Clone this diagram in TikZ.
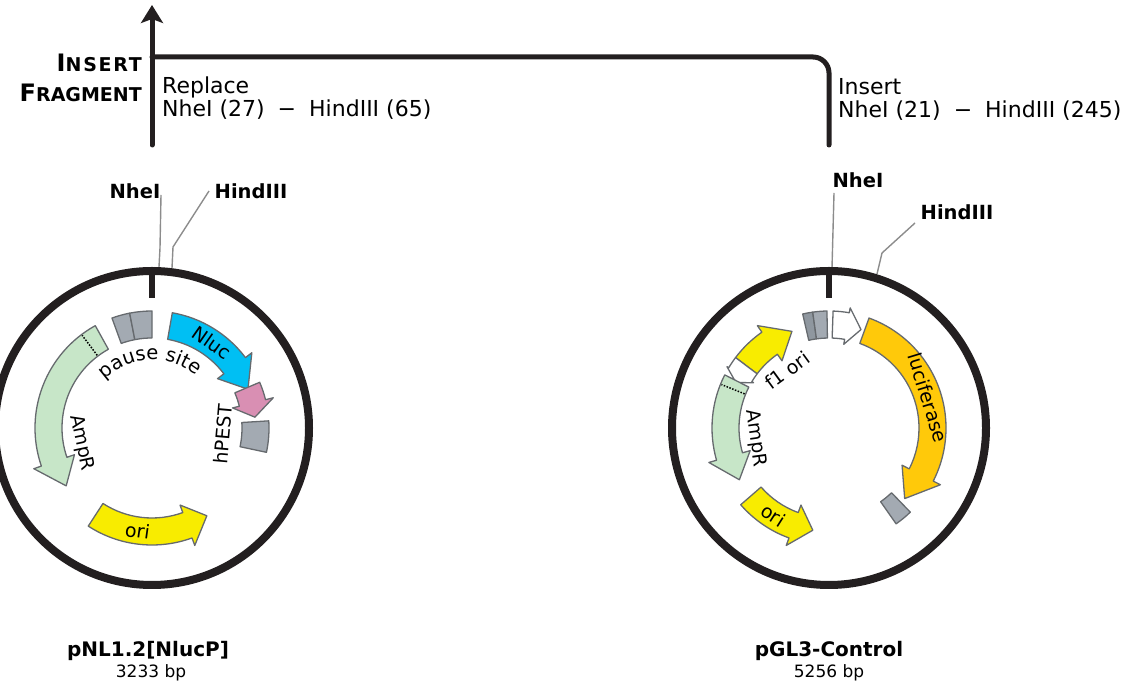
\documentclass[tikz,border=0pt]{standalone}
\usepackage{fontspec}
\setmainfont{DejaVu Sans}
\usetikzlibrary{arrows.meta,decorations.text}
\definecolor{ringc}{HTML}{231F20}
\definecolor{featline}{HTML}{666A6E}
\definecolor{leadc}{HTML}{8C8C8C}
\definecolor{boxc}{HTML}{A3AAB2}
\definecolor{boxd}{HTML}{8F979F}
\definecolor{cyanc}{HTML}{00BFF3}
\definecolor{pinkc}{HTML}{D98FB3}
\definecolor{greenc}{HTML}{C7E6C8}
\definecolor{yellowc}{HTML}{F8EC00}
\definecolor{orangec}{HTML}{FFC90A}
% start angle, head-base angle, tip angle, fill, head outer radius, head inner radius
\newcommand\featarrow[6]{%
  \filldraw[feat, fill=#4] (#1:117pt) arc[start angle=#1, end angle=#2, radius=117pt]
    -- (#2:#5pt) -- (#3:103.5pt) -- (#2:#6pt) -- (#2:90pt)
    arc[start angle=#2, end angle=#1, radius=90pt] -- cycle;}
% start angle, end angle, fill
\newcommand\featbox[3]{%
  \filldraw[feat, fill=#3] (#1:117pt) arc[start angle=#1, end angle=#2, radius=117pt]
    -- (#2:90pt) arc[start angle=#2, end angle=#1, radius=90pt] -- cycle;}
\newcommand\fakesc[3]{{\fontsize{24}{24}\selectfont #1}{\fontsize{19}{19}\selectfont\addfontfeature{LetterSpace=#3}#2}}
\begin{document}
\begin{tikzpicture}[x=1pt,y=1pt,
  feat/.style={draw=featline, line width=1.3pt, line join=round},
  ringline/.style={draw=ringc, line width=8pt},
  tickline/.style={draw=ringc, line width=6pt},
  lead/.style={draw=leadc, line width=1.4pt},
  bracket/.style={draw=ringc, line width=5pt, line cap=round},
  dotline/.style={draw=black, line width=1.5pt, dash pattern=on 1.5pt off 1.5pt},
  flbl/.style={inner sep=0pt, font=\fontsize{19}{22}\selectfont},
  site/.style={inner sep=0pt, font=\bfseries\fontsize{19.5}{22}\selectfont},
  toptxt/.style={inner sep=0pt, anchor=base west, font=\fontsize{22}{25}\selectfont},
  headtxt/.style={inner sep=0pt, anchor=base east, font=\bfseries},
  pname/.style={inner sep=0pt, font=\bfseries\fontsize{20}{23}\selectfont},
  psize/.style={inner sep=0pt, font=\fontsize{17}{20}\selectfont}]
\useasboundingbox (0,0) rectangle (1137,687);
\clip (0,0) rectangle (1137,687);

% ---------- top bracket ----------
\coordinate (arrbase) at (152,542);
\coordinate (arrtip) at (152,682);
\coordinate (brjoin) at (152,630);
\coordinate (brcorner) at (829,630);
\coordinate (brend) at (829,542);
\draw[bracket, -{Stealth[length=18pt,width=22pt,inset=4pt]}] (arrbase) -- (arrtip);
\draw[bracket, rounded corners=16pt] (brjoin) -- (brcorner) -- (brend);

\node[headtxt] (ins) at (142,615) {\fakesc{I}{NSERT}{9}};
\node[headtxt] (frag) at (142,585) {\fakesc{F}{RAGMENT}{0}};
\node[toptxt] (repl) at (162,593) {Replace};
\node[toptxt] (replsites) at (162,570) {NheI (27)\hspace{13pt}−\hspace{13pt}HindIII (65)};
\node[toptxt] (insr) at (838,592) {Insert};
\node[toptxt] (inssites) at (838,569) {NheI (21)\hspace{13pt}−\hspace{13pt}HindIII (245)};

% ---------- site labels and leaders ----------
\node[site, anchor=base] (nheL) at (135,488) {NheI};
\node[site, anchor=base] (hindL) at (251,488) {HindIII};
\node[site, anchor=base] (nheR) at (858,499) {NheI};
\node[site, anchor=base] (hindR) at (957,467) {HindIII};
\coordinate (nheLa) at (161,492); \coordinate (nheLb) at (160,439); \coordinate (nheLc) at (159,420);
\coordinate (hindLa) at (209,496); \coordinate (hindLb) at (173,440); \coordinate (hindLc) at (172,419);
\coordinate (nheRa) at (834,494); \coordinate (nheRc) at (832,419);
\coordinate (hindRa) at (915,464); \coordinate (hindRb) at (882,434); \coordinate (hindRc) at (877,413);
\draw[lead] (nheLa) -- (nheLb) -- (nheLc);
\draw[lead] (hindLa) -- (hindLb) -- (hindLc);
\draw[lead] (nheRa) -- (nheRc);
\draw[lead] (hindRa) -- (hindRb) -- (hindRc);

% ---------- left plasmid pNL1.2[NlucP] ----------
\begin{scope}[shift={(152,259)}]
  \draw[ringline] (0,0) circle[radius=157pt];
  \draw[tickline] (90:161pt) -- (90:130pt);
  \featbox{110}{101}{boxc}
  \featbox{101}{90}{boxc}
  \featarrow{80}{37}{22}{cyanc}{125}{82}
  \featarrow{23}{14}{6}{pinkc}{125}{83}
  \featbox{3.5}{-12}{boxc}
  \featarrow{119}{199}{214}{greenc}{125}{82}
  \draw[dotline] (127:91pt) -- (127:116pt);
  \featarrow{237}{290}{302}{yellowc}{125}{82}
  \node[flbl, rotate=-35] (nlucL) at (55:104pt) {Nluc};
  \node[flbl, rotate=85] (hpestL) at (-5:71pt) {hPEST};
  \node[flbl, rotate=-78] (amprL) at (192:72pt) {AmpR};
  \node[flbl, rotate=-8] (oriL) at (262:104pt) {ori};
  \path[decorate, decoration={text along path, text align=center,
      text={|\fontsize{19.5}{22}\selectfont|pause site}}]
      (152:68pt) arc[start angle=152, end angle=32, radius=68pt];
\end{scope}

% ---------- right plasmid pGL3-Control ----------
\begin{scope}[shift={(829,259)}]
  \draw[ringline] (0,0) circle[radius=157pt];
  \draw[tickline] (90:161pt) -- (90:130pt);
  \featbox{103}{98}{boxd}
  \featbox{98}{91}{boxc}
  \featarrow{88}{80}{72}{white}{122}{85}
  \featarrow{70}{-27}{-43}{orangec}{125}{82}
  \featbox{-46}{-55}{boxc}
  \featarrow{143}{125}{111}{yellowc}{125}{82}
  \featarrow{143}{149}{154}{white}{119}{88}
  \featarrow{153}{196}{210}{greenc}{125}{82}
  \draw[dotline] (158:91pt) -- (158:116pt);
  \featarrow{221}{250}{261}{yellowc}{125}{82}
  \node[flbl, rotate=36] (f1R) at (126:71pt) {f1 ori};
  \node[flbl, rotate=-73] (lucR) at (17:103.5pt) {luciferase};
  \node[flbl, rotate=-82] (amprR) at (188:74pt) {AmpR};
  \node[flbl, rotate=-32.5] (oriR) at (237.5:103.5pt) {ori};
\end{scope}

% ---------- names ----------
\node[pname] (nameL) at (148,36) {pNL1.2[NlucP]};
\node[psize] (sizeL) at (151,14) {3233 bp};
\node[pname] (nameR) at (829,36) {pGL3-Control};
\node[psize] (sizeR) at (829,14) {5256 bp};
\end{tikzpicture}
\end{document}
